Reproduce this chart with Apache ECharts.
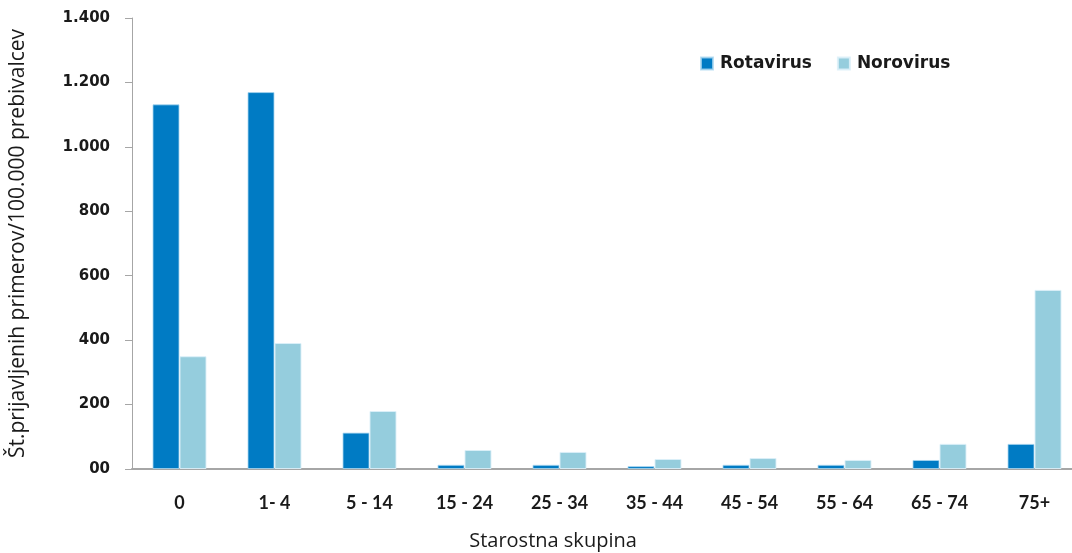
<!DOCTYPE html>
<html>
<head>
<meta charset="utf-8">
<script src="https://cdn.jsdelivr.net/npm/echarts@6/dist/echarts.min.js"></script>
<style>
html,body{margin:0;padding:0;background:#fff;overflow:hidden;}
#chart{width:1082px;height:553px;}
</style>
</head>
<body>
<div id="chart"></div>
<script>
var categories = ['0', '1- 4', '5 - 14', '15 - 24', '25 - 34', '35 - 44', '45 - 54', '55 - 64', '65 - 74', '75+'];
var rotavirus = [1132, 1170, 113, 13, 13, 9, 13, 13, 28, 78];
var norovirus = [350, 391, 180, 59, 53, 31, 34, 28, 78, 556];
var yTicks = [0, 200, 400, 600, 800, 1000, 1200, 1400];
var seriesNames = ['Rotavirus', 'Norovirus'];
var yAxisTitle = 'Št.prijavljenih primerov/100.000 prebivalcev';
var xAxisTitle = 'Starostna skupina';

function fmt(v) {
  if (v === 0) return '00';
  return String(v).replace(/\B(?=(\d{3})+(?!\d))/g, '.');
}

var chart = echarts.init(document.getElementById('chart'));
var dejavu = '"DejaVu Sans", sans-serif';
var lato = 'Lato, sans-serif';
var open = '"Open Sans", sans-serif';
chart.setOption({
  animation: false,
  backgroundColor: '#ffffff',
  grid: { left: 132, right: 0, top: 18, bottom: 84, containLabel: false },
  legend: {
    data: seriesNames,
    left: 695,
    top: 50,
    itemWidth: 12,
    itemHeight: 12,
    itemGap: 25,
    icon: 'rect',
    textStyle: { fontFamily: dejavu, fontSize: 17, color: '#1a1a1a', fontWeight: 'bold', padding: [0, 0, 0, 2] }
  },
  xAxis: {
    type: 'category',
    data: categories,
    axisLine: { lineStyle: { color: '#a6a6a6', width: 2 } },
    axisTick: { show: false },
    axisLabel: { margin: 25, fontSize: 18, fontWeight: 'bold', color: '#1a1a1a', fontFamily: lato }
  },
  yAxis: {
    type: 'value',
    min: 0,
    max: yTicks[yTicks.length - 1],
    interval: 200,
    name: yAxisTitle,
    nameLocation: 'middle',
    nameGap: 103,
    nameTextStyle: { fontSize: 21, color: '#1a1a1a', fontFamily: open },
    axisLine: { show: true, lineStyle: { color: '#a6a6a6', width: 1 } },
    axisTick: { show: true, length: 7, lineStyle: { color: '#a6a6a6' } },
    splitLine: { show: false },
    axisLabel: { margin: 22, fontSize: 15, fontWeight: 'bold', color: '#1a1a1a', fontFamily: dejavu, formatter: fmt }
  },
  graphic: [{
    type: 'text',
    x: 553,
    y: 541,
    style: { text: xAxisTitle, fontSize: 20, fontFamily: open, fill: '#1a1a1a', textAlign: 'center', textVerticalAlign: 'middle' }
  }],
  series: [
    {
      name: seriesNames[0], type: 'bar', data: rotavirus, barWidth: 27, barGap: '0%',
      itemStyle: { color: '#007bc4', borderColor: 'rgba(170,215,240,0.8)', borderWidth: 1 }
    },
    {
      name: seriesNames[1], type: 'bar', data: norovirus, barWidth: 27,
      itemStyle: { color: '#95cddd', borderColor: 'rgba(220,240,248,0.9)', borderWidth: 1 }
    }
  ]
});
</script>
</body>
</html>
